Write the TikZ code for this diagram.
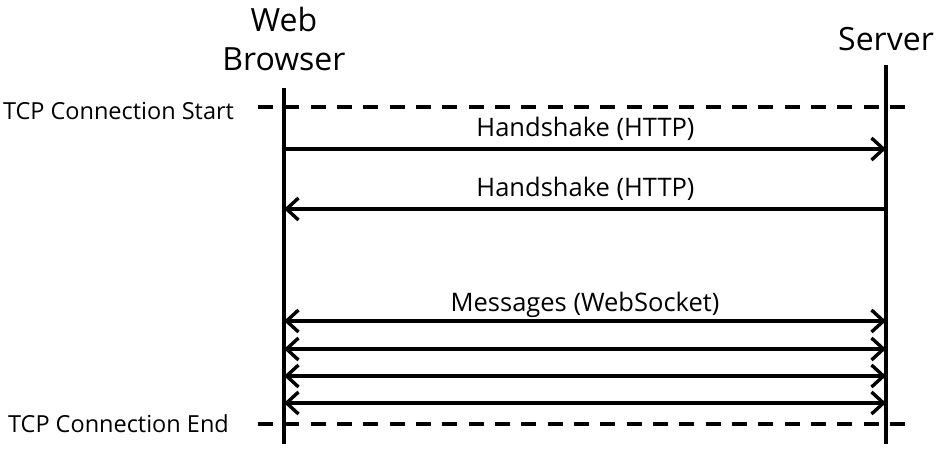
\documentclass[tikz,border=0pt]{standalone}
\usepackage{fontspec}
\setmainfont{Open Sans}
\usetikzlibrary{arrows.meta}
\tikzset{mytip/.tip={Straight Barb[length=12pt,width=22pt,line width=3.4pt]}}
\begin{document}
\begin{tikzpicture}[x=1pt,y=-1pt,
  life/.style={line width=3.4pt},
  tcp/.style={line width=3.4pt,dash pattern=on 15pt off 11.33pt},
  msg/.style={line width=3.4pt},
  lbl/.style={font=\fontsize{25.5}{30}\selectfont,inner sep=0pt,anchor=base},
  ttl/.style={font=\fontsize{32}{38}\selectfont,inner sep=0pt,anchor=base},
  side/.style={font=\fontsize{23.5}{28}\selectfont,inner sep=0pt,anchor=base}]
\useasboundingbox (0,0) rectangle (942,454);
% lifelines
\coordinate (bt) at (284,88);
\coordinate (bb) at (284,444);
\coordinate (st) at (886,65);
\coordinate (sb) at (886,444);
\draw[life] (bt) -- (bb);
\draw[life] (st) -- (sb);
% titles
\node[ttl] (wb1) at (284,32) {Web};
\node[ttl] (wb2) at (284,71) {Browser};
\node[ttl] (sv) at (886,51) {Server};
% tcp dashed lines
\coordinate (ts1) at (258,107);
\coordinate (ts2) at (905,107);
\coordinate (te1) at (258,424);
\coordinate (te2) at (905,424);
\draw[tcp] (ts1) -- (ts2);
\draw[tcp] (te1) -- (te2);
\node[side] (tstart) at (118.5,120) {TCP Connection Start};
\node[side] (tend) at (118.5,432) {TCP Connection End};
% messages
\coordinate (b1) at (284,149); \coordinate (s1) at (886,149);
\coordinate (b2) at (284,209); \coordinate (s2) at (886,209);
\coordinate (b3) at (284,321); \coordinate (s3) at (886,321);
\coordinate (b4) at (284,349); \coordinate (s4) at (886,349);
\coordinate (b5) at (284,376); \coordinate (s5) at (886,376);
\coordinate (b6) at (284,403); \coordinate (s6) at (886,403);
\draw[msg,-{mytip}] (b1) -- (s1);
\draw[msg,-{mytip}] (s2) -- (b2);
\draw[msg,{mytip}-{mytip}] (b3) -- (s3);
\draw[msg,{mytip}-{mytip}] (b4) -- (s4);
\draw[msg,{mytip}-{mytip}] (b5) -- (s5);
\draw[msg,{mytip}-{mytip}] (b6) -- (s6);
\node[lbl] (h1) at (585.5,137) {Handshake (HTTP)};
\node[lbl] (h2) at (585.5,197) {Handshake (HTTP)};
\node[lbl] (m1) at (585,312) {Messages (WebSocket)};
\end{tikzpicture}
\end{document}
